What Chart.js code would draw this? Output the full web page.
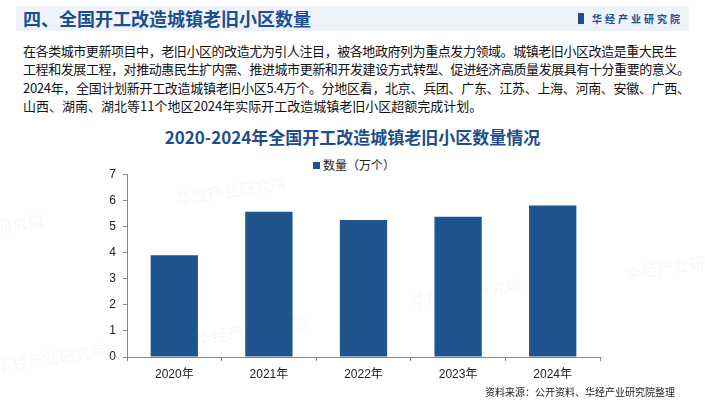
<!DOCTYPE html>
<html>
<head>
<meta charset="utf-8">
<script src="https://cdn.jsdelivr.net/npm/chart.js@4"></script>
<style>
  body { margin: 0; width: 705px; height: 400px; background: #fff; position: relative; overflow: hidden;
         font-family: "Liberation Sans", "Noto Sans CJK SC", sans-serif; }
  .band { position: absolute; left: 16px; top: 6px; width: 673px; height: 25px; background: #eef3fb; }
  .head { position: absolute; left: 23px; top: 6px; line-height: 25px; font-size: 18px; font-weight: bold;
          color: #1f4e8c; font-family: "Noto Sans CJK SC", sans-serif; }
  .logo { position: absolute; left: 578px; top: 6px; line-height: 25px; font-size: 10px; font-weight: bold;
          color: #1f4e8c; letter-spacing: 3px; font-family: "Noto Sans CJK SC", sans-serif; }
  .logo i { display: inline-block; width: 6px; height: 11px; background: #1f4e8c; vertical-align: -1px; margin-right: 8px; }
  .para { position: absolute; left: 23px; top: 42px; font-size: 13px; line-height: 18.3px; color: #111;
          font-family: "Noto Sans CJK SC", sans-serif; }
  .para div { white-space: nowrap; }
  .title { position: absolute; left: 0; width: 705px; top: 125px; text-align: center; font-size: 17px; font-weight: bold;
           color: #1f4e8c; line-height: 24px; font-family: "Noto Sans CJK SC", sans-serif; }
  .legend { position: absolute; left: 313px; top: 156px; font-size: 12px; line-height: 18px; color: #222;
            font-family: "Noto Sans CJK SC", sans-serif; }
  .legend i { display: inline-block; width: 7px; height: 7px; background: #20548f; margin-right: 3px; vertical-align: 1px; }
  .src { position: absolute; left: 485px; top: 385px; font-size: 10px; line-height: 14px; color: #222;
         font-family: "Noto Sans CJK SC", sans-serif; }
  .wm { position: absolute; font-size: 16px; font-weight: bold; color: rgba(31, 78, 140, 0.05);
        transform: rotate(-8deg); font-family: "Noto Sans CJK SC", sans-serif; white-space: nowrap; }
  canvas { position: absolute; left: 0; top: 160px; }
</style>
</head>
<body>
<div class="band"></div>
<div class="head">四、全国开工改造城镇老旧小区数量</div>
<div class="logo"><i></i>华经产业研究院</div>
<div class="para">
  <div class="j">在各类城市更新项目中，老旧小区的改造尤为引人注目，被各地政府列为重点发力领域。城镇老旧小区改造是重大民生</div>
  <div class="j">工程和发展工程，对推动惠民生扩内需、推进城市更新和开发建设方式转型、促进经济高质量发展具有十分重要的意义。</div>
  <div class="j">2024年，全国计划新开工改造城镇老旧小区5.4万个。分地区看，北京、兵团、广东、江苏、上海、河南、安徽、广西、</div>
  <div>山西、湖南、湖北等11个地区2024年实际开工改造城镇老旧小区超额完成计划。</div>
</div>
<div class="wm" style="left:175px;top:178px;">华经产业研究院</div>
<div class="wm" style="left:195px;top:318px;">华经产业研究院</div>
<div class="wm" style="left:410px;top:280px;">华经产业研究院</div>
<div class="wm" style="left:625px;top:255px;">华经产业研</div>
<div class="wm" style="left:-20px;top:212px;">业研究院</div>
<div class="wm" style="left:-5px;top:345px;">华经产业研究院</div>
<div class="title">2020-2024年全国开工改造城镇老旧小区数量情况</div>
<div class="legend"><i></i>数量（万个）</div>
<canvas id="chart" width="705" height="240"></canvas>
<div class="src">资料来源：公开资料、华经产业研究院整理</div>
<script>
const years = ['2020年', '2021年', '2022年', '2023年', '2024年'];
const counts = [3.9, 5.56, 5.25, 5.37, 5.8];
const yTicks = [0, 1, 2, 3, 4, 5, 6, 7];

// stretch the first three paragraph lines to the full text width
document.querySelectorAll('.para .j').forEach(line => {
  const n = line.textContent.length;
  const w = line.getBoundingClientRect().width;
  line.style.letterSpacing = ((667 - w) / (n - 1)) + 'px';
});

const axisColor = '#888';
const labelFont = { family: '"Liberation Sans", "Noto Sans CJK SC", sans-serif', size: 12 };

new Chart(document.getElementById('chart'), {
  type: 'bar',
  data: {
    labels: years,
    datasets: [{
      label: '数量（万个）',
      data: counts,
      backgroundColor: '#20548f',
      categoryPercentage: 1,
      barPercentage: 0.5
    }]
  },
  options: {
    responsive: false,
    animation: false,
    layout: { padding: { left: 0, right: 105, top: 12, bottom: 13 } },
    plugins: { legend: { display: false }, title: { display: false }, tooltip: { enabled: false } },
    scales: {
      x: {
        afterFit: (scale) => { scale.height = 30; },
        grid: { drawOnChartArea: false, tickLength: 4, color: axisColor },
        border: { color: axisColor },
        ticks: { color: '#222', font: labelFont, padding: 6 }
      },
      y: {
        min: 0,
        max: 7,
        afterFit: (scale) => { scale.width = 127; },
        afterBuildTicks: (scale) => { scale.ticks = yTicks.map(v => ({ value: v })); },
        grid: { drawOnChartArea: false, tickLength: 4, color: axisColor },
        border: { color: axisColor },
        ticks: { color: '#222', font: labelFont, padding: 7 }
      }
    }
  }
});
</script>
</body>
</html>
